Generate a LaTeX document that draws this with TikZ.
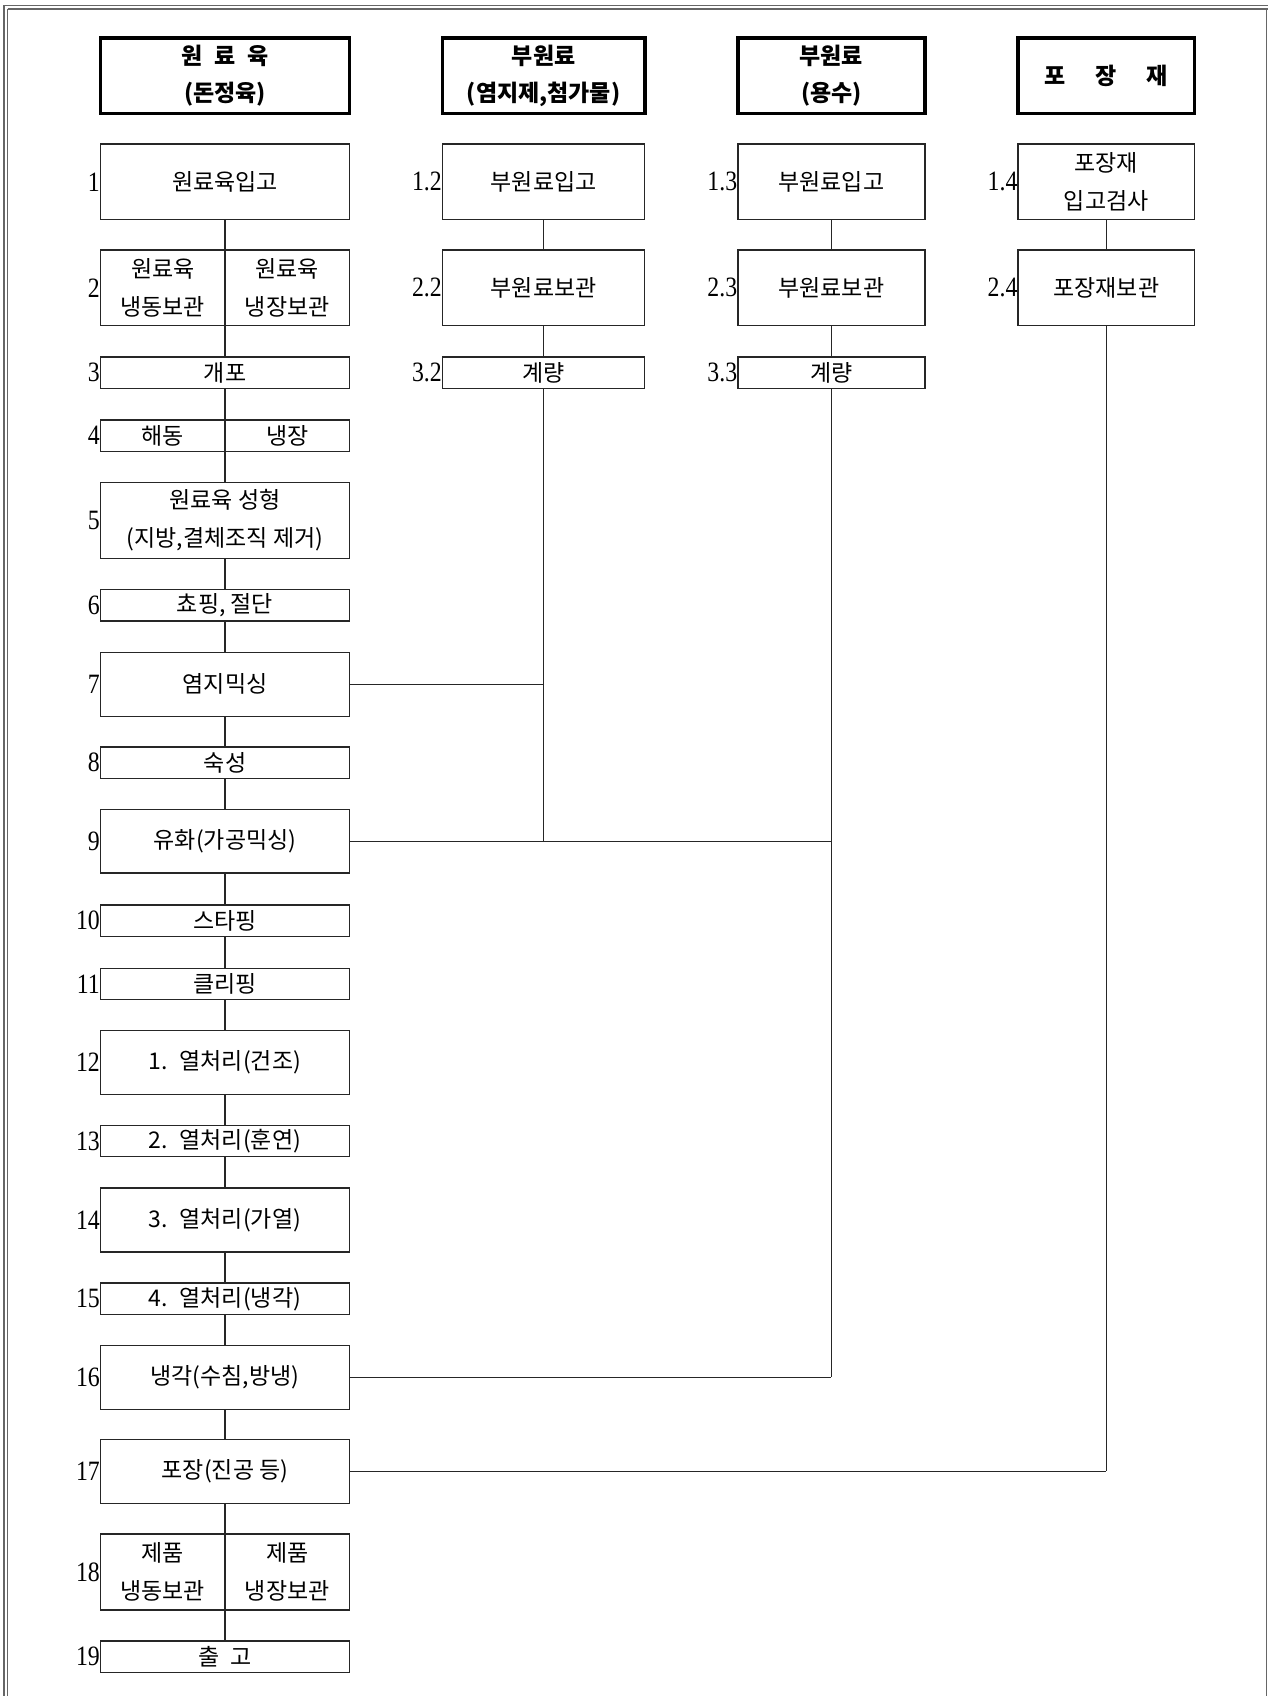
\documentclass[tikz,border=0pt]{standalone}
\usepackage{fontspec}
\newfontfamily\kr{Noto Sans CJK KR}
\newfontfamily\numf[FakeStretch=0.85]{Liberation Serif}
\tikzset{
  hdr/.style={draw=black, line width=3.6pt, inner sep=0pt, outer sep=0pt, align=center,
    font=\kr\bfseries\fontsize{23}{37}\selectfont},
  pbox/.style={draw=black!85, line width=1.4pt, inner sep=0pt, outer sep=0pt, align=center,
    font=\kr\fontsize{23}{38}\selectfont},
  ptxt/.style={inner sep=0pt, align=center, font=\kr\fontsize{23}{38}\selectfont},
  num/.style={anchor=east, inner sep=0.5pt, font=\numf\fontsize{28}{28}\selectfont},
  conn/.style={draw=black!85, line width=1.3pt},
  frameline/.style={draw=black!60, line width=1.6pt},
  c1/.style={minimum width=249pt},
  c2/.style={minimum width=202.3pt},
  c3/.style={minimum width=187pt},
  c4/.style={minimum width=176.3pt},
  tall/.style={minimum height=75.7pt},
  mid/.style={minimum height=63.8pt},
  low/.style={minimum height=31.4pt},
}
\begin{document}
\begin{tikzpicture}[x=1pt,y=-1pt]
\fill[white] (0,0) rectangle (1268,1696);
\useasboundingbox (0,0) rectangle (1268,1696);
% frame
\draw[frameline] (4,5.5) -- (1268,5.5);
\draw[frameline] (7.5,8.8) -- (1268,8.8);
\draw[frameline] (4,5.5) -- (4,1696);
\draw[frameline] (7.5,8.8) -- (7.5,1696);
\draw[frameline] (1266.5,8.8) -- (1266.5,1696);

% headers
\node[hdr,c1,tall] (h1) at (225,75.8) {원\hspace{0.5em}료\hspace{0.5em}육\\(돈정육)};
\node[hdr,c2,tall] (h2) at (543.6,75.8) {부원료\\(염지제,첨가물)};
\node[hdr,c3,tall] (h3) at (831.4,75.8) {부원료\\(용수)};
\node[hdr,c4,tall] (h4) at (1106.3,75.8) {포\hspace{1.3em}장\hspace{1.3em}재};

% column 1
\node[pbox,c1,tall] (n1) at (225,181.8) {원료육입고};
\node[pbox,c1,tall] (n2) at (225,287.8) {};
\node[ptxt] (n2a) at ([xshift=-62.25pt]n2.center) {원료육\\냉동보관};
\node[ptxt] (n2b) at ([xshift=62.25pt]n2.center) {원료육\\냉장보관};
\node[pbox,c1,low] (n3) at (225,372.7) {개포};
\node[pbox,c1,low] (n4) at (225,435.5) {};
\node[ptxt] (n4a) at ([xshift=-62.25pt]n4.center) {해동};
\node[ptxt] (n4b) at ([xshift=62.25pt]n4.center) {냉장};
\node[pbox,c1,tall] (n5) at (225,520.4) {원료육 성형\\(지방,결체조직 제거)};
\node[pbox,c1,low] (n6) at (225,605.3) {쵸핑, 절단};
\node[pbox,c1,mid] (n7) at (225,684.3) {염지믹싱};
\node[pbox,c1,low] (n8) at (225,762.8) {숙성};
\node[pbox,c1,mid] (n9) at (225,841.2) {유화(가공믹싱)};
\node[pbox,c1,low] (n10) at (225,920.7) {스타핑};
\node[pbox,c1,low] (n11) at (225,984) {클리핑};
\node[pbox,c1,mid] (n12) at (225,1062.4) {1.\hspace{0.5em}열처리(건조)};
\node[pbox,c1,low] (n13) at (225,1140.9) {2.\hspace{0.5em}열처리(훈연)};
\node[pbox,c1,mid] (n14) at (225,1219.9) {3.\hspace{0.5em}열처리(가열)};
\node[pbox,c1,low] (n15) at (225,1298.8) {4.\hspace{0.5em}열처리(냉각)};
\node[pbox,c1,mid] (n16) at (225,1377.3) {냉각(수침,방냉)};
\node[pbox,c1,mid] (n17) at (225,1471.4) {포장(진공 등)};
\node[pbox,c1,tall] (n18) at (225,1572) {};
\node[ptxt] (n18a) at ([xshift=-62.25pt]n18.center) {제품\\냉동보관};
\node[ptxt] (n18b) at ([xshift=62.25pt]n18.center) {제품\\냉장보관};
\node[pbox,c1,low] (n19) at (225,1656.5) {출\hspace{0.45em}고};

% column 2
\node[pbox,c2,tall] (c12) at (543.6,181.8) {부원료입고};
\node[pbox,c2,tall] (c22) at (543.6,287.8) {부원료보관};
\node[pbox,c2,low] (c32) at (543.6,372.7) {계량};
% column 3
\node[pbox,c3,tall] (c13) at (831.4,181.8) {부원료입고};
\node[pbox,c3,tall] (c23) at (831.4,287.8) {부원료보관};
\node[pbox,c3,low] (c33) at (831.4,372.7) {계량};
% column 4
\node[pbox,c4,tall] (c14) at (1106.3,181.8) {포장재\\입고검사};
\node[pbox,c4,tall] (c24) at (1106.3,287.8) {포장재보관};

% numbers
\foreach \n/\t in {n1/1,n2/2,n3/3,n4/4,n5/5,n6/6,n7/7,n8/8,n9/9,n10/10,n11/11,n12/12,n13/13,n14/14,n15/15,n16/16,n17/17,n18/18,n19/19,c12/1.2,c22/2.2,c32/3.2,c13/1.3,c23/2.3,c33/3.3,c14/1.4,c24/2.4}
  \node[num] (l\n) at (\n.west) {\t};

% dividers in two-part boxes
\draw[conn] (n2.north) -- (n2.south);
\draw[conn] (n4.north) -- (n4.south);
\draw[conn] (n18.north) -- (n18.south);

% main column connectors
\foreach \a/\b in {n1/n2,n2/n3,n3/n4,n4/n5,n5/n6,n6/n7,n7/n8,n8/n9,n9/n10,n10/n11,n11/n12,n12/n13,n13/n14,n14/n15,n15/n16,n16/n17,n17/n18,n18/n19,c12/c22,c22/c32,c13/c23,c23/c33,c14/c24}
  \draw[conn] (\a.south) -- (\b.north);

% side feeds
\draw[conn] (c32.south) -- (c32.south |- n9.east);
\draw[conn] (n7.east) -- (n7.east -| c32.south);
\draw[conn] (n9.east) -- (n9.east -| c33.south);
\draw[conn] (c33.south) -- (c33.south |- n16.east);
\draw[conn] (n16.east) -- (n16.east -| c33.south);
\draw[conn] (c24.south) -- (c24.south |- n17.east);
\draw[conn] (n17.east) -- (n17.east -| c24.south);
\end{tikzpicture}
\end{document}
